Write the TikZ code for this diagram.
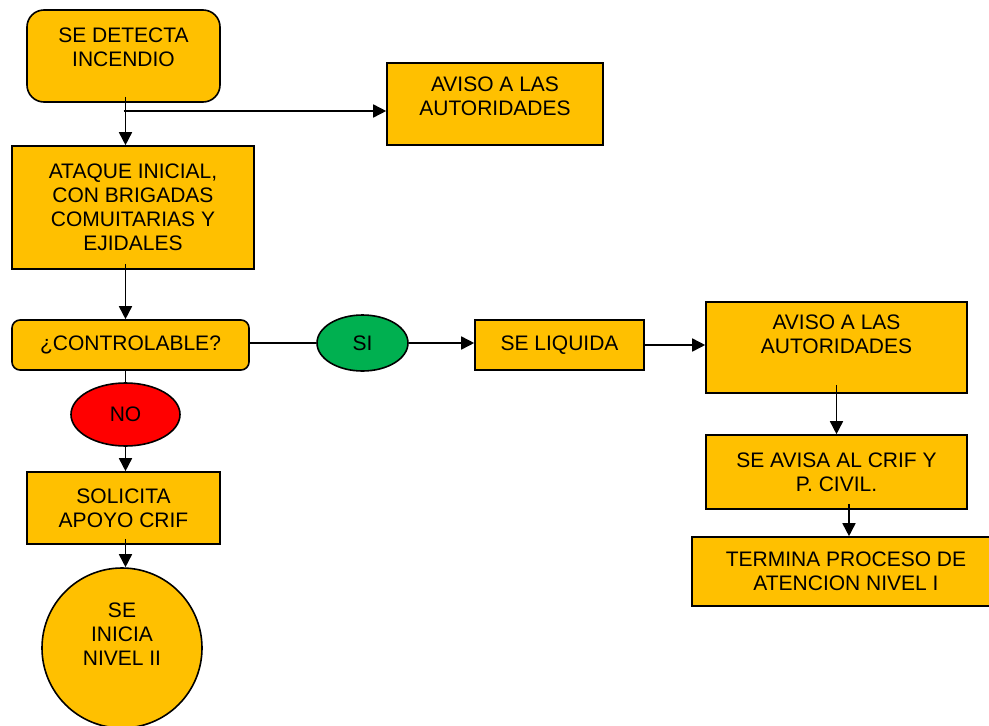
\documentclass[tikz,border=0pt]{standalone}
\usepackage{fontspec}
\setmainfont{Liberation Sans}
\usetikzlibrary{shapes.geometric, arrows.meta, positioning}
\definecolor{gold}{RGB}{255,192,0}
\definecolor{sigreen}{RGB}{0,176,80}
\newcommand{\uptext}[2]{\begin{tabular}{@{}c@{}}#2\\[#1]\end{tabular}}

\begin{document}
\begin{tikzpicture}[
    x=1pt, y=-1pt,
    font=\fontsize{21}{24}\selectfont,
    box/.style={rectangle, draw, line width=1.6pt, fill=gold, align=center, inner sep=2pt},
    oval/.style={ellipse, draw, line width=1.6pt, inner sep=0pt},
    arrow/.style={-{Triangle[length=13pt, width=13pt]}, line width=1.6pt},
    link/.style={line width=1.6pt},
    frombox/.style={shorten <=-6pt}
]
\useasboundingbox (0,0) rectangle (989,726);

% Left column
\node[box, rounded corners=17pt, minimum width=193pt, minimum height=92pt] (detecta) at (123.5,56) {\uptext{13pt}{SE DETECTA\\INCENDIO}};
\node[box, minimum width=216pt, minimum height=82pt] (aviso1) at (495,104) {\uptext{11pt}{AVISO A LAS\\AUTORIDADES}};
\node[box, minimum width=242pt, minimum height=123pt] (ataque) at (133,207.5) {ATAQUE INICIAL,\\CON BRIGADAS\\COMUITARIAS Y\\EJIDALES};
\node[box, rounded corners=8pt, minimum width=237pt, minimum height=50pt] (controlable) at (130.5,345) {¿CONTROLABLE?};
\node[oval, fill=red, minimum width=109pt, minimum height=63pt] (no) at (125.5,414.5) {NO};
\node[box, minimum width=193pt, minimum height=72pt] (solicita) at (123.5,508) {SOLICITA\\APOYO CRIF};
\node[box, circle, minimum size=160pt] (nivel) at (122,648) {\uptext{22pt}{SE\\INICIA\\NIVEL II}};

% Right branch
\node[oval, fill=sigreen, minimum width=91pt, minimum height=56pt] (si) at (362.5,343) {SI};
\node[box, minimum width=169pt, minimum height=50pt] (liquida) at (559.5,345) {SE LIQUIDA};
\node[box, minimum width=261pt, minimum height=91pt] (aviso2) at (836.5,347.5) {\uptext{22pt}{AVISO A LAS\\AUTORIDADES}};
\node[box, minimum width=261pt, minimum height=74pt] (seavisa) at (836.5,472) {SE AVISA AL CRIF Y\\P. CIVIL.};
\node[box, minimum width=308pt, minimum height=69pt] (termina) at (846,571.5) {TERMINA PROCESO DE\\ATENCION NIVEL I};

% Connectors
\coordinate (split) at (123.5,111);
\draw[arrow, frombox] (no.north |- detecta.south) -- (no.north |- ataque.north);
\draw[arrow] (split) -- (split -| aviso1.west);
\draw[arrow, frombox] (no.north |- ataque.south) -- (no.north |- controlable.north);
\draw[link] (controlable.east |- si.west) -- (si.west);
\draw[arrow] (si.east) -- (si.east -| liquida.west);
\draw[arrow] (liquida.east) -- (liquida.east -| aviso2.west);
\draw[arrow, shorten <=-9pt] (aviso2.south) -- (seavisa.north);
\draw[arrow, frombox] ([xshift=12.5pt]seavisa.south) -- ([xshift=12.5pt]seavisa.south |- termina.north);
\draw[link] (no.north |- controlable.south) -- (no.north);
\draw[arrow] (no.south) -- (no.south |- solicita.north);
\draw[arrow, frombox] (no.south |- solicita.south) -- (no.south |- nivel.north);

\end{tikzpicture}
\end{document}
